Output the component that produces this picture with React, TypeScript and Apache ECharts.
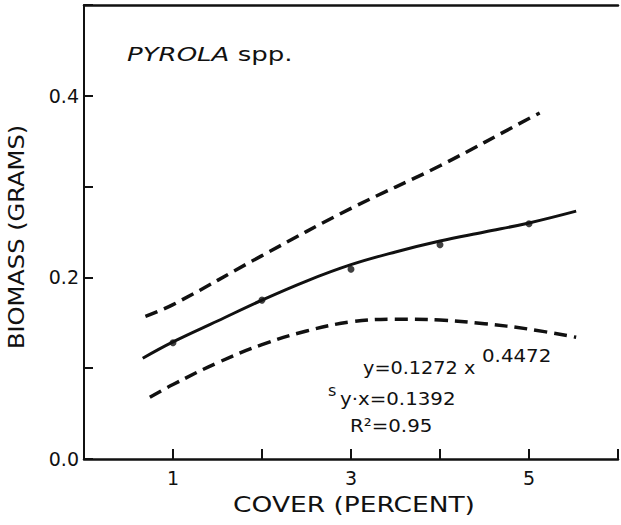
import React, { useEffect, useRef } from "react";
import * as echarts from "echarts";

// Fitted curve (solid)
const fitX = [0.66, 1, 1.5, 2, 2.5, 3, 3.5, 4, 4.5, 5, 5.53];
const fitY = [0.111, 0.129, 0.152, 0.175, 0.196, 0.214, 0.228, 0.240, 0.250, 0.260, 0.273];
// Upper confidence band (dashed)
const upperX = [0.69, 1, 2, 3, 4, 5, 5.12];
const upperY = [0.157, 0.170, 0.224, 0.276, 0.323, 0.375, 0.381];
// Lower confidence band (dashed)
const lowerX = [0.74, 1, 1.5, 2, 2.5, 3, 3.5, 4, 4.5, 5, 5.53];
const lowerY = [0.068, 0.082, 0.106, 0.126, 0.141, 0.151, 0.154, 0.153, 0.149, 0.143, 0.134];
// Observed means (dots)
const obsX = [1, 2, 3, 4, 5];
const obsY = [0.128, 0.175, 0.209, 0.236, 0.259];

// Tick labels
const xTickLabels = ["", "1", "", "3", "", "5", ""];
const yTickLabels = ["0.0", "", "0.2", "", "0.4", ""];

const INK = "#111";
const FONT = "DejaVu Sans";

const zip = (xs: number[], ys: number[]) => xs.map((x, i) => [x, ys[i]]);

export default function App() {
  const ref = useRef<HTMLDivElement>(null);
  useEffect(() => {
    if (!ref.current) return;
    const chart = echarts.init(ref.current, undefined, { renderer: "svg" });
    const txt = (
      text: string,
      x: number,
      y: number,
      size: number,
      scaleX = 1,
      align = "left",
      extra: any = {}
    ) => ({
      type: "text",
      x,
      y,
      scaleX,
      silent: true,
      style: {
        text,
        fill: INK,
        fontFamily: FONT,
        fontSize: size,
        align,
        verticalAlign: "middle",
        ...extra,
      },
    });
    chart.setOption({
      animation: false,
      backgroundColor: "#fff",
      grid: { left: 84, right: 3, top: 5, bottom: 66, containLabel: false },
      xAxis: [
        {
          type: "value",
          min: 0,
          max: 6,
          interval: 1,
          axisLine: { show: true, onZero: false, lineStyle: { color: INK, width: 2.5 } },
          axisTick: { show: true, inside: true, length: 10, lineStyle: { color: INK, width: 2 } },
          axisLabel: {
            color: INK,
            fontFamily: FONT,
            fontSize: 19,
            margin: 9,
            formatter: (v: number) => xTickLabels[Math.round(v)] ?? "",
          },
          splitLine: { show: false },
        },
        {
          type: "value",
          position: "top",
          min: 0,
          max: 6,
          axisLine: { show: true, onZero: false, lineStyle: { color: INK, width: 2.5 } },
          axisTick: { show: false },
          axisLabel: { show: false },
          splitLine: { show: false },
        },
      ],
      yAxis: {
        type: "value",
        min: 0,
        max: 0.5,
        interval: 0.1,
        axisLine: { show: true, onZero: false, lineStyle: { color: INK, width: 2 } },
        axisTick: { show: true, inside: true, length: 9, lineStyle: { color: INK, width: 2 } },
        axisLabel: {
          color: INK,
          fontFamily: FONT,
          fontSize: 19,
          margin: 5,
          formatter: (v: number) => yTickLabels[Math.round(v * 10)] ?? "",
        },
        splitLine: { show: false },
      },
      series: [
        {
          type: "line",
          data: zip(fitX, fitY),
          smooth: 0.4,
          showSymbol: false,
          lineStyle: { color: INK, width: 3 },
        },
        {
          type: "line",
          data: zip(upperX, upperY),
          smooth: 0.4,
          showSymbol: false,
          lineStyle: { color: INK, width: 3.5, type: [13, 7] },
        },
        {
          type: "line",
          data: zip(lowerX, lowerY),
          smooth: 0.4,
          showSymbol: false,
          lineStyle: { color: INK, width: 3.5, type: [13, 7] },
        },
        {
          type: "scatter",
          data: zip(obsX, obsY),
          symbol: "circle",
          symbolSize: 7,
          itemStyle: { color: INK },
        },
      ],
      graphic: [
        {
          type: "text",
          x: 127,
          y: 54,
          scaleX: 1.37,
          silent: true,
          style: {
            text: "{i|PYROLA} spp.",
            fill: INK,
            fontFamily: FONT,
            fontSize: 19,
            align: "left",
            verticalAlign: "middle",
            rich: {
              i: { fontStyle: "italic", fontFamily: FONT, fontSize: 19, fill: INK },
            },
          },
        },
        txt("y=0.1272 x", 363, 368, 18, 1.07),
        txt("0.4472", 482, 355, 18, 1.1),
        txt("s", 328, 390, 16, 1),
        txt("y·x=0.1392", 340, 398, 18, 1.1),
        txt("R²=0.95", 350, 425, 18, 1.1),
        txt("COVER (PERCENT)", 354, 505, 21, 1.26, "center"),
        {
          type: "text",
          x: 17,
          y: 237,
          rotation: Math.PI / 2,
          scaleX: 1.15,
          silent: true,
          style: {
            text: "BIOMASS (GRAMS)",
            fill: INK,
            fontFamily: FONT,
            fontSize: 21,
            align: "center",
            verticalAlign: "middle",
          },
        },
      ],
    });
    return () => chart.dispose();
  }, []);
  return <div ref={ref} style={{ width: 621, height: 525, position: "absolute", left: 0, top: 0 }} />;
}
